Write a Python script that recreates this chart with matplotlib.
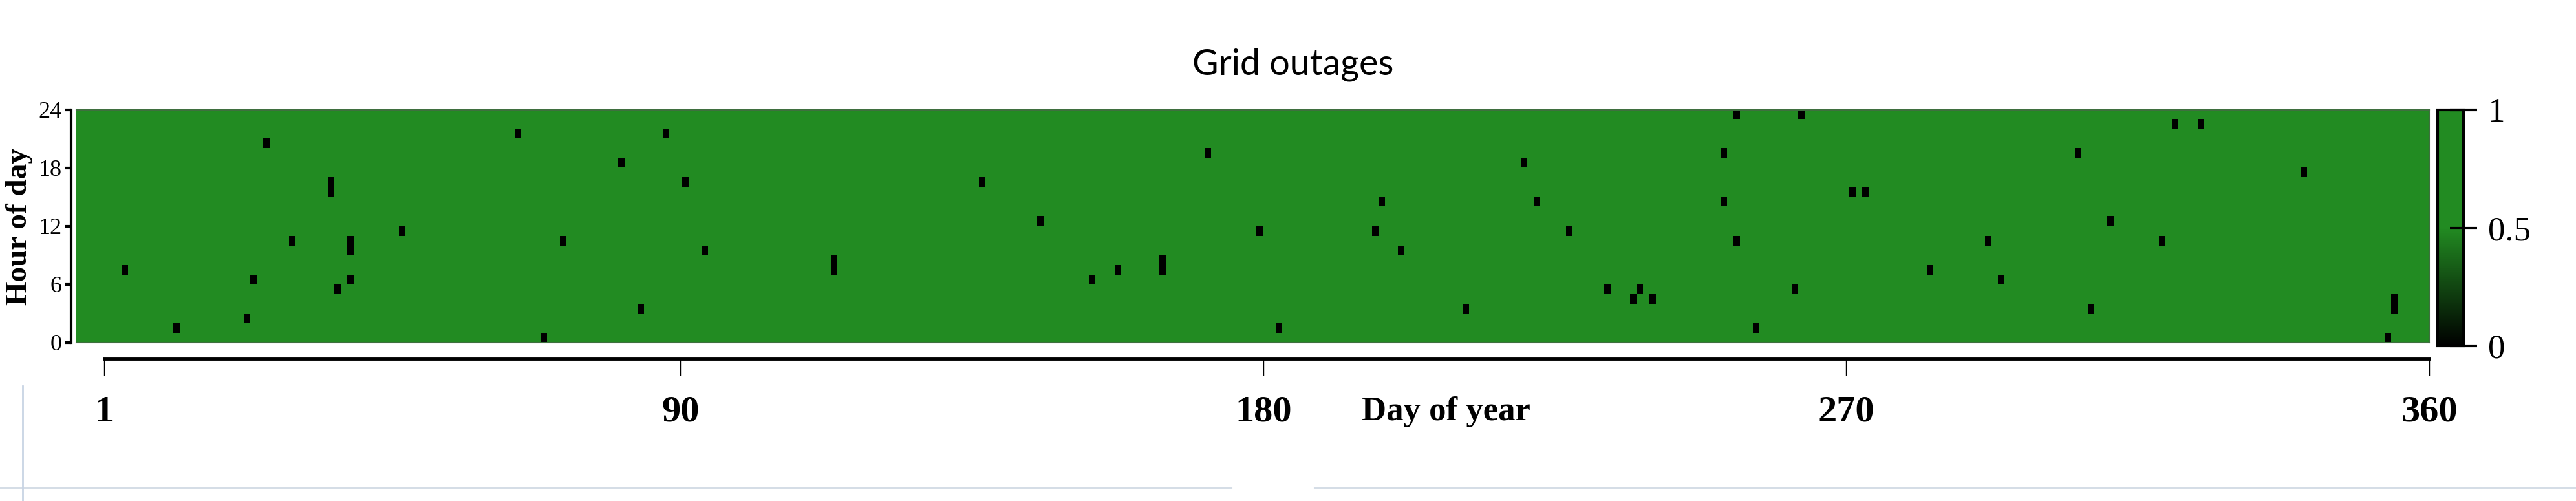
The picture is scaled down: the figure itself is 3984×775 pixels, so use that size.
import numpy as np
import matplotlib
matplotlib.use('Agg')
from matplotlib import pyplot as plt
from matplotlib.colors import LinearSegmentedColormap
from matplotlib.lines import Line2D

# outage cells: day of year and hour of day
outage_day = [8, 16, 27, 28, 30, 34, 40, 40, 41, 43, 43, 43, 51,
              69, 73, 76, 85, 88, 92, 95, 98,
              118, 118, 141, 150,
              158, 162, 169, 169, 176, 184, 187, 202, 203, 206,
              216, 225, 227, 232, 238, 242, 243, 245, 256, 256, 258, 258, 261,
              267, 268, 276, 278, 288, 297, 299, 311, 313,
              316, 324, 326, 330, 346, 359, 360, 360]
outage_hour = [7, 1, 2, 6, 20, 10, 15, 16, 5, 6, 9, 10, 11,
               21, 0, 10, 18, 3, 21, 16, 9,
               7, 8, 16, 12,
               6, 7, 7, 8, 19, 11, 1, 11, 14, 9,
               3, 18, 14, 11, 5, 4, 5, 4, 14, 19, 10, 23, 1,
               5, 23, 15, 15, 7, 10, 6, 19, 3,
               12, 10, 22, 22, 17, 0, 3, 4]

n_days = 365
n_hours = 24
x_ticks = [1, 90, 180, 270, 360]
y_ticks = [0, 6, 12, 18, 24]
cbar_ticks = [0, 0.5, 1]

green = '#228b22'
serif = ['Liberation Serif', 'DejaVu Serif']

if __name__ == '__main__':
    status = np.ones((n_hours, n_days))
    status[np.array(outage_hour), np.array(outage_day) - 1] = 0

    cmap = LinearSegmentedColormap.from_list('grid', [(0, 'black'), (0.5, green), (1, green)])

    W, H = 3984, 775
    fig = plt.figure(figsize=(W / 100, H / 100), dpi=100)

    def box(x0, y0, x1, y1):
        return [x0 / W, 1 - y1 / H, (x1 - x0) / W, (y1 - y0) / H]

    # heatmap
    ax = fig.add_axes(box(118, 170, 3757, 530))
    # moving the spine resets the ticks, so do it first
    ax.spines['left'].set_position(('outward', 6))
    ax.spines['left'].set_linewidth(3)
    for side in ['top', 'right', 'bottom']:
        ax.spines[side].set_color('#3f6f3f')
        ax.spines[side].set_linewidth(1.5)
    im = ax.imshow(status, origin='lower', aspect='auto', cmap=cmap, vmin=0, vmax=1,
                   extent=[0.5, n_days + 0.5, 0, n_hours], interpolation='nearest')
    ax.set_xlim(0.5, n_days + 0.5)
    ax.set_ylim(0, n_hours)
    ax.set_xticks([])
    ax.set_yticks(y_ticks)
    ax.set_yticklabels([str(t) for t in y_ticks], family=serif, fontsize=26)
    ax.tick_params(axis='y', length=7, width=3, pad=3)

    # separate day-of-year axis below the map
    axx = fig.add_axes(box(161, 553, 3757, 555))
    axx.set_xlim(1, 360)
    axx.set_yticks([])
    for side in ['top', 'right', 'left']:
        axx.spines[side].set_visible(False)
    axx.spines['bottom'].set_linewidth(3.5)
    axx.patch.set_alpha(0)
    axx.set_xticks(x_ticks)
    axx.set_xticklabels([str(t) for t in x_ticks], family=serif, fontsize=42, fontweight='bold')
    axx.tick_params(axis='x', length=19, width=1, pad=22)

    # colorbar
    cax = fig.add_axes(box(3770, 170, 3810, 535))
    cb = fig.colorbar(im, cax=cax, ticks=cbar_ticks)
    cb.ax.set_yticklabels(['0', '0.5', '1'], family=serif, fontsize=38)
    cb.ax.tick_params(direction='inout', length=30, width=3, pad=12)
    cb.outline.set_linewidth(3)

    fig.text(2000 / W, 1 - 100 / H, 'Grid outages', family=['Lato', 'DejaVu Sans'],
             fontsize=40, ha='center', va='center')
    fig.text(2106 / W, 1 - 637 / H, 'Day of year', family=serif, fontsize=38,
             fontweight='bold', ha='left', va='center')
    fig.text(30 / W, 1 - 350 / H, 'Hour of day', family=serif, fontsize=34,
             fontweight='bold', rotation=90, ha='center', va='center')

    # faint frame lines at the bottom edge of the original picture
    fig.add_artist(Line2D([0, 1905 / W], [1 - 755 / H] * 2, color='#d5dde6', lw=1.5))
    fig.add_artist(Line2D([2033 / W, 1], [1 - 755 / H] * 2, color='#d5dde6', lw=1.5))
    fig.add_artist(Line2D([35 / W] * 2, [0, 1 - 597 / H], color='#c8d4e4', lw=2))

    fig.savefig('out.png', dpi=100)
